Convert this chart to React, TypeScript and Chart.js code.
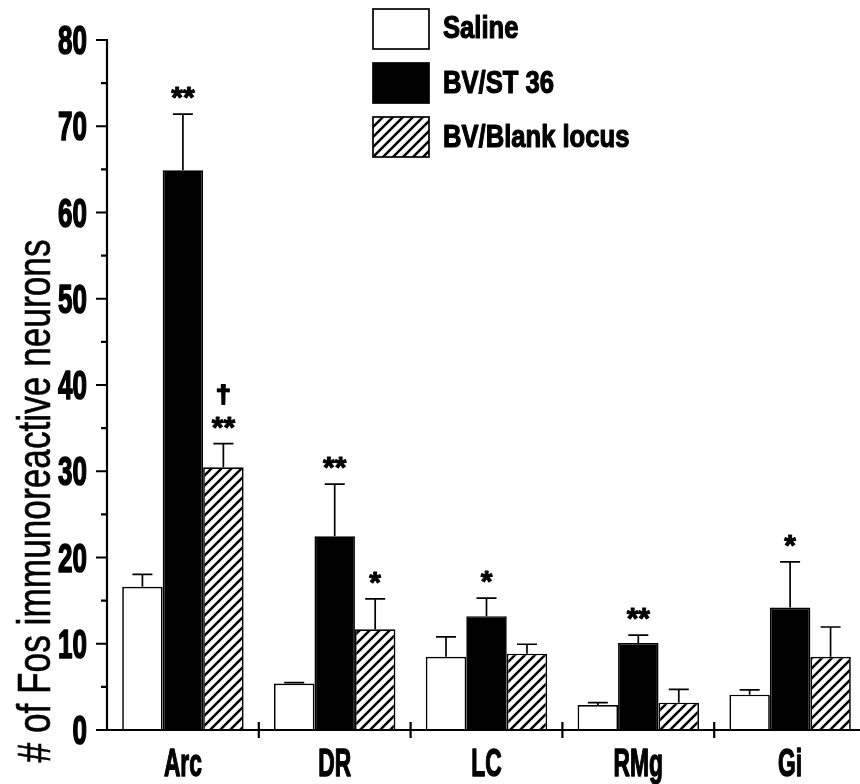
import React, { useEffect, useRef } from 'react';
import { Chart, registerables } from 'chart.js';

Chart.register(...registerables);

// ---------- data ----------
const categories = ['Arc', 'DR', 'LC', 'RMg', 'Gi'];
const seriesNames = ['Saline', 'BV/ST 36', 'BV/Blank locus'];

const saline = [16.6, 5.4, 8.5, 2.9, 4.1];
const salineErr = [1.45, 0.1, 2.3, 0.27, 0.55];

const st36 = [64.9, 22.45, 13.2, 10.1, 14.2];
const st36Err = [6.5, 6.05, 2.1, 0.9, 5.3];

const blank = [30.45, 11.67, 8.85, 3.17, 8.5];
const blankErr = [2.75, 3.53, 1.09, 1.55, 3.44];

const salineMarks = ['', '', '', '', ''];
const st36Marks = ['**', '**', '*', '**', '*'];
const blankMarks = ['**', '*', '', '', ''];
const blankMarks2 = ['\u2020', '', '', '', ''];

const yMajorTicks = [0, 10, 20, 30, 40, 50, 60, 70, 80];
const yMinorTicks = [5, 15, 25, 35, 45, 55, 65, 75];
const yTitle = '# of Fos immunoreactive neurons';

const SANS = '"Liberation Sans", Arial, sans-serif';

function makeHatch(): CanvasPattern | string {
  const n = 10;
  const c = document.createElement('canvas');
  c.width = n;
  c.height = n;
  const g = c.getContext('2d');
  if (!g) return '#888';
  g.fillStyle = '#fff';
  g.fillRect(0, 0, n, n);
  g.strokeStyle = '#000';
  g.lineWidth = 2.5;
  g.beginPath();
  g.moveTo(-2, 2);
  g.lineTo(2, -2);
  g.moveTo(-2, n + 2);
  g.lineTo(n + 2, -2);
  g.moveTo(n - 2, n + 2);
  g.lineTo(n + 2, n - 2);
  g.stroke();
  return g.createPattern(c, 'repeat') || '#888';
}

function drawText(
  ctx: CanvasRenderingContext2D,
  text: string,
  x: number,
  cy: number,
  font: string,
  sx: number,
  align: CanvasTextAlign,
  thicken = 0
) {
  ctx.save();
  ctx.font = font;
  ctx.textAlign = align;
  ctx.textBaseline = 'alphabetic';
  ctx.lineJoin = 'round';
  const m = ctx.measureText(text);
  const by = cy + (m.actualBoundingBoxAscent - m.actualBoundingBoxDescent) / 2;
  ctx.translate(x, by);
  ctx.scale(sx, 1);
  ctx.fillStyle = '#000';
  ctx.fillText(text, 0, 0);
  if (thicken > 0) {
    ctx.strokeStyle = '#000';
    ctx.lineWidth = thicken;
    ctx.strokeText(text, 0, 0);
  }
  ctx.restore();
}

function drawBaselineText(
  ctx: CanvasRenderingContext2D,
  text: string,
  x: number,
  by: number,
  font: string,
  sx: number,
  align: CanvasTextAlign,
  thicken = 0
) {
  ctx.save();
  ctx.font = font;
  ctx.textAlign = align;
  ctx.textBaseline = 'alphabetic';
  ctx.lineJoin = 'round';
  ctx.translate(x, by);
  ctx.scale(sx, 1);
  ctx.fillStyle = '#000';
  ctx.fillText(text, 0, 0);
  if (thicken > 0) {
    ctx.strokeStyle = '#000';
    ctx.lineWidth = thicken;
    ctx.strokeText(text, 0, 0);
  }
  ctx.restore();
}

export default function App() {
  const ref = useRef<HTMLCanvasElement | null>(null);

  useEffect(() => {
    document.body.style.margin = '0';
    const canvas = ref.current;
    if (!canvas) return;
    const hatch = makeHatch();
    const values = [saline, st36, blank];
    const errs = [salineErr, st36Err, blankErr];
    const marks = [salineMarks, st36Marks, blankMarks];
    const marks2 = [salineMarks, salineMarks, blankMarks2];
    const fills: (string | CanvasPattern)[] = ['#ffffff', '#000000', hatch];

    const decor = {
      id: 'decor',
      afterDatasetsDraw(chart: any) {
        const ctx: CanvasRenderingContext2D = chart.ctx;
        const ca = chart.chartArea;
        const ys = chart.scales.y;
        const xs = chart.scales.x;
        const y0 = ys.getPixelForValue(0);
        const yTop = ys.getPixelForValue(80);

        ctx.save();
        ctx.strokeStyle = '#000';
        ctx.lineCap = 'butt';

        // error bars
        ctx.lineWidth = 1.7;
        values.forEach((vals, i) => {
          const meta = chart.getDatasetMeta(i);
          vals.forEach((v, j) => {
            const el = meta.data[j];
            if (!el) return;
            const top = ys.getPixelForValue(v + errs[i][j]);
            ctx.beginPath();
            ctx.moveTo(el.x, el.y);
            ctx.lineTo(el.x, top);
            ctx.moveTo(el.x - 10, top);
            ctx.lineTo(el.x + 10, top);
            ctx.stroke();
          });
        });

        // axes
        ctx.lineWidth = 2.2;
        ctx.beginPath();
        ctx.moveTo(ca.left, yTop - 1);
        ctx.lineTo(ca.left, y0 + 1);
        ctx.moveTo(ca.left - 11, y0);
        ctx.lineTo(ca.right, y0);
        yMajorTicks.forEach((t) => {
          const p = ys.getPixelForValue(t);
          ctx.moveTo(ca.left - 11, p);
          ctx.lineTo(ca.left, p);
        });
        yMinorTicks.forEach((t) => {
          const p = ys.getPixelForValue(t);
          ctx.moveTo(ca.left - 6, p);
          ctx.lineTo(ca.left, p);
        });
        for (let j = 1; j < categories.length; j++) {
          const px = (xs.getPixelForValue(j - 1) + xs.getPixelForValue(j)) / 2;
          ctx.moveTo(px, y0 - 8);
          ctx.lineTo(px, y0 + 8);
        }
        ctx.stroke();

        // y tick labels
        yMajorTicks.forEach((t) => {
          drawText(ctx, String(t), ca.left - 20, ys.getPixelForValue(t), `bold 40px ${SANS}`, 0.65, 'right', 1.6);
        });

        // category labels
        categories.forEach((c, j) => {
          drawBaselineText(ctx, c, xs.getPixelForValue(j), 776, `bold 38px ${SANS}`, 0.6, 'center', 1.4);
        });

        // significance marks
        values.forEach((vals, i) => {
          const meta = chart.getDatasetMeta(i);
          vals.forEach((v, j) => {
            const el = meta.data[j];
            if (!el) return;
            const top = ys.getPixelForValue(v + errs[i][j]);
            if (marks[i][j]) {
              drawText(ctx, marks[i][j], el.x, top - 21, `bold 30px ${SANS}`, 1, 'center', 1);
            }
            if (marks2[i][j]) {
              drawText(ctx, marks2[i][j], el.x, top - 49, `bold 24px ${SANS}`, 1.1, 'center', 1.8);
            }
          });
        });

        // y title
        ctx.save();
        ctx.font = `47px ${SANS}`;
        const w = ctx.measureText(yTitle).width;
        const k = 523 / w;
        ctx.translate(50, 501);
        ctx.rotate(-Math.PI / 2);
        ctx.scale(k, 1);
        ctx.textAlign = 'center';
        ctx.textBaseline = 'alphabetic';
        ctx.fillStyle = '#000';
        ctx.fillText(yTitle, 0, 0);
        ctx.strokeStyle = '#000';
        ctx.lineWidth = 0.6;
        ctx.strokeText(yTitle, 0, 0);
        ctx.restore();

        // legend
        const boxTops = [9, 63, 117];
        const baselines = [38, 93, 147];
        chart.data.datasets.forEach((ds: any, i: number) => {
          ctx.fillStyle = ds.backgroundColor;
          ctx.fillRect(373, boxTops[i], 56, 40);
          ctx.lineWidth = 1.7;
          ctx.strokeStyle = '#000';
          ctx.strokeRect(373, boxTops[i], 56, 40);
          drawBaselineText(ctx, ds.label, 443, baselines[i], `bold 32px ${SANS}`, 0.8, 'left', 1.2);
        });

        ctx.restore();
      },
    };

    const chart = new Chart(canvas, {
      type: 'bar',
      data: {
        labels: categories,
        datasets: values.map((vals, i) => ({
          label: seriesNames[i],
          data: vals,
          backgroundColor: fills[i] as any,
          borderColor: '#000000',
          borderWidth: 1.7,
          categoryPercentage: 0.8,
          barPercentage: 1.0,
        })),
      },
      options: {
        responsive: false,
        animation: false,
        devicePixelRatio: 1,
        layout: { padding: { top: 40, left: 0, right: 0, bottom: 0 } },
        plugins: {
          legend: { display: false },
          tooltip: { enabled: false },
          title: { display: false },
        },
        scales: {
          x: {
            grid: { display: false, drawTicks: false },
            border: { display: false },
            ticks: { display: false },
            afterFit: (s: any) => {
              s.height = 54;
            },
          },
          y: {
            min: 0,
            max: 80,
            grid: { display: false, drawTicks: false },
            border: { display: false },
            ticks: { display: false, stepSize: 10 },
            afterFit: (s: any) => {
              s.width = 107;
            },
          },
        },
      },
      plugins: [decor],
    });

    return () => {
      chart.destroy();
    };
  }, []);

  return (
    <div style={{ width: 860, height: 784, overflow: 'hidden', background: '#fff' }}>
      <canvas ref={ref} width={866} height={784} style={{ display: 'block', width: 866, height: 784 }} />
    </div>
  );
}
